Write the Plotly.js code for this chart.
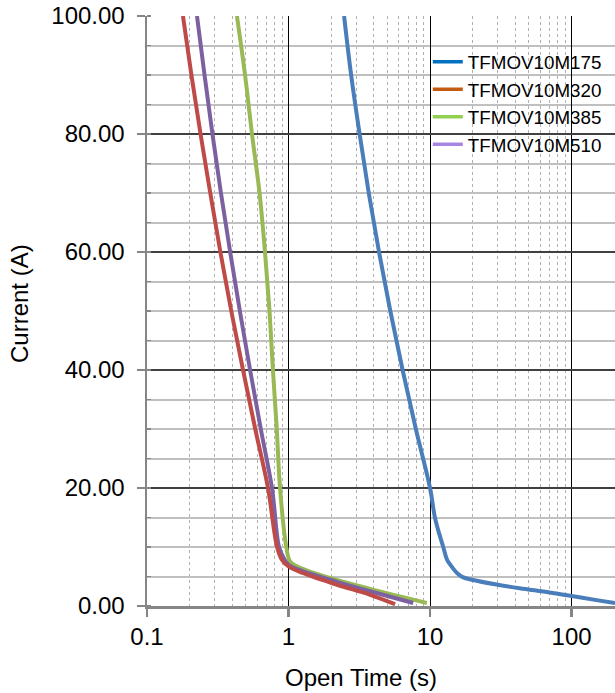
<!DOCTYPE html>
<html>
<head>
<meta charset="utf-8">
<script src="https://cdn.plot.ly/plotly-3.0.1.min.js"></script>
<style>html,body{margin:0;padding:0;background:#fff;}#chart{width:615px;height:693px;}</style>
</head>
<body>
<div id="chart"></div>
<script>
// Series names
const seriesNames = ["TFMOV10M175", "TFMOV10M320", "TFMOV10M385", "TFMOV10M510"];

// Open time (s) and current (A)
const t175 = [2.47, 2.77, 3.18, 3.69, 4.36, 5.24, 6.40, 7.94, 10, 10.8, 11.4, 12.4, 13.2, 14.3, 15.5, 17, 20.1, 30, 43, 70, 100, 150, 203];
const i175 = [100, 90, 80, 70, 60, 50, 40, 30, 20, 15.1, 12.9, 10, 7.8, 6.6, 5.6, 4.9, 4.4, 3.6, 3.0, 2.3, 1.7, 1.0, 0.5];

const t320 = [0.1795, 0.206, 0.239, 0.280, 0.330, 0.394, 0.477, 0.582, 0.716, 0.83, 0.90, 1.0, 1.26, 2.2, 3.77, 5.66];
const i320 = [100, 90, 80, 70, 60, 50, 40, 30, 20, 10, 7.8, 6.7, 5.6, 3.6, 1.9, 0.3];

const t385 = [0.432, 0.493, 0.552, 0.624, 0.682, 0.734, 0.776, 0.826, 0.871, 0.965, 1.03, 1.26, 2.2, 3.77, 9.5];
const i385 = [100, 90, 80, 70, 60, 50, 40, 30, 20, 10, 7.5, 6.3, 4.4, 2.9, 0.5];

const t510 = [0.2255, 0.255, 0.290, 0.333, 0.387, 0.453, 0.535, 0.637, 0.764, 0.857, 0.93, 1.0, 1.26, 2.2, 3.77, 7.6];
const i510 = [100, 90, 80, 70, 60, 50, 40, 30, 20, 10, 8, 7.0, 5.9, 4.1, 2.5, 0.5];

// Axis ticks
const xTickVals = [0.1, 1, 10, 100];
const xTickText = ["0.1", "1", "10", "100"];
const yTickVals = [0, 20, 40, 60, 80, 100];

const lineColors = ["#4A7EBB", "#BE4B48", "#98B954", "#7D60A0"];
const legendColors = ["#0070C0", "#C55A11", "#92D050", "#A885E0"];

const xs = [t175, t320, t385, t510];
const ys = [i175, i320, i385, i510];

const traces = [];
// draw order: blue, green, purple, red
[0, 2, 3, 1].forEach(k => {
  traces.push({
    x: xs[k], y: ys[k], type: "scatter", mode: "lines",
    line: {color: lineColors[k], width: 4, shape: "spline", smoothing: 1},
    showlegend: false, hoverinfo: "skip"
  });
});
[0, 1, 2, 3].forEach(k => {
  traces.push({
    x: [null], y: [null], type: "scatter", mode: "lines",
    name: seriesNames[k],
    line: {color: legendColors[k], width: 3.5},
    showlegend: true
  });
});

const fontFam = "Liberation Sans, Arial, sans-serif";

const layout = {
  width: 615, height: 693,
  margin: {l: 147, r: 0, t: 16, b: 87},
  paper_bgcolor: "#ffffff", plot_bgcolor: "#ffffff",
  font: {family: fontFam, color: "#000", size: 24},
  showlegend: true,
  legend: {
    x: 0.6, y: 0.954, xanchor: "left", yanchor: "top",
    bgcolor: "rgba(0,0,0,0)", borderwidth: 0,
    font: {family: fontFam, size: 18.8, color: "#000"}
  },
  xaxis: {
    type: "log", range: [-1, 2.307],
    tickvals: xTickVals, ticktext: xTickText,
    ticks: "outside", ticklen: 8, tickwidth: 2.5, tickcolor: "#868686",
    showline: true, linecolor: "#868686", linewidth: 2.5,
    showgrid: true, gridcolor: "#000000", gridwidth: 1,
    zeroline: false,
    tickfont: {size: 24},
    minor: {dtick: "D1", showgrid: true, gridcolor: "#B0B0B0", gridwidth: 1, griddash: "dot", ticks: ""}
  },
  yaxis: {
    range: [0, 100], tickvals: yTickVals, tickformat: ".2f",
    ticks: "outside", ticklen: 8, tickwidth: 2.5, tickcolor: "#868686",
    ticklabelstandoff: 7,
    showline: true, linecolor: "#868686", linewidth: 2.5,
    showgrid: true, gridcolor: "#404040", gridwidth: 2,
    zeroline: false,
    tickfont: {size: 24},
    minor: {dtick: 5, showgrid: true, gridcolor: "#C0C0C0", gridwidth: 2, ticks: "inside", ticklen: 4, tickcolor: "#868686", tickwidth: 1.5}
  },
  shapes: [{
    type: "rect", xref: "paper", yref: "paper", layer: "between",
    x0: 0.568, x1: 0.991, y0: 0.7, y1: 0.9975,
    fillcolor: "#ffffff", line: {width: 0}
  }],
  annotations: [{
    text: "Open Time (s)", xref: "paper", yref: "paper",
    x: (361 - 147) / 468, y: 0, yshift: -71, xanchor: "center", yanchor: "middle",
    showarrow: false, font: {size: 24, family: fontFam, color: "#000"}
  }, {
    text: "Current (A)", xref: "paper", yref: "paper", textangle: -90,
    x: (19 - 147) / 468, y: (606 - 304) / 590, xanchor: "center", yanchor: "middle",
    showarrow: false, font: {size: 24, family: fontFam, color: "#000"}
  }]
};

Plotly.newPlot("chart", traces, layout, {displayModeBar: false, staticPlot: true});
</script>
</body>
</html>
